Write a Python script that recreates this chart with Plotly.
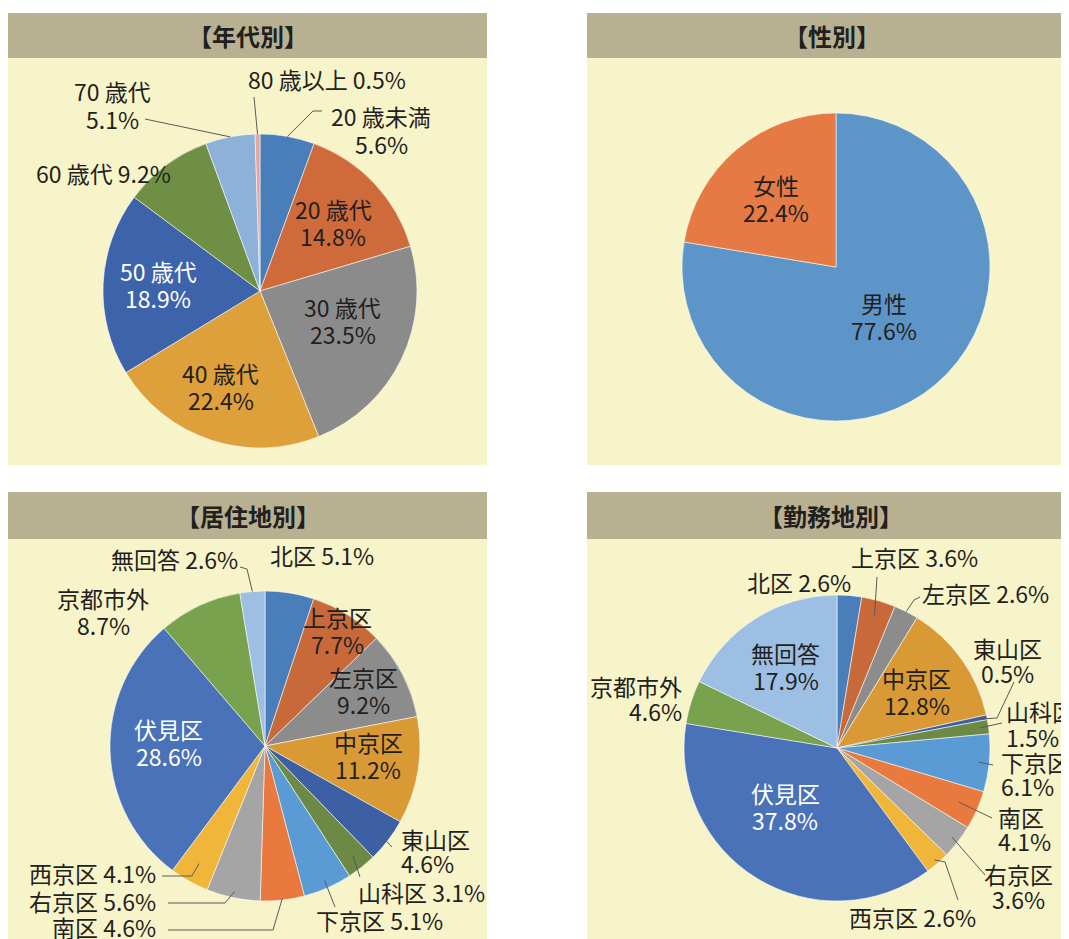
import math
import plotly.graph_objects as go

W, H = 1069, 939
OFF = 8  # page body margin in the browser

# ---------------- data ----------------
age_labels = ["20 歳未満", "20 歳代", "30 歳代", "40 歳代", "50 歳代", "60 歳代", "70 歳代", "80 歳以上"]
age_values = [5.6, 14.8, 23.5, 22.4, 18.9, 9.2, 5.1, 0.5]

sex_labels = ["男性", "女性"]
sex_values = [77.6, 22.4]

ward_labels = ["北区", "上京区", "左京区", "中京区", "東山区", "山科区", "下京区",
               "南区", "右京区", "西京区", "伏見区", "京都市外", "無回答"]
res_values = [5.1, 7.7, 9.2, 11.2, 4.6, 3.1, 5.1, 4.6, 5.6, 4.1, 28.6, 8.7, 2.6]
work_values = [2.6, 3.6, 2.6, 12.8, 0.5, 1.5, 6.1, 4.1, 3.6, 2.6, 37.8, 4.6, 17.9]

titles = ["【年代別】", "【性別】", "【居住地別】", "【勤務地別】"]

# ---------------- styles ----------------
age_colors = ["#4a7ebb", "#cf6b3a", "#8b8b8b", "#dea03a", "#3d64ab", "#6f8f45", "#8eb1d9", "#e8a39b"]
sex_colors = ["#5e95c8", "#e57a45"]
ward_colors = ["#4a7ebb", "#c8693a", "#8c8c8c", "#d99a35", "#3d5fa3", "#6c8a45", "#5b9bd5",
               "#e8793f", "#a5a5a5", "#f0b63a", "#4a72b8", "#78a24e", "#9dbfe3"]

HEADER = "#b7b192"
PANEL = "#f8f4c9"
INK = "#231f20"
FONT = "Noto Sans CJK JP"
FS = 23
GAP = 27

FW, FH = W - OFF, H - OFF
fig = go.Figure()


def px(x, y):
    return (x - OFF) / FW, 1 - (y - OFF) / FH


def mid_angle(values, i, dang=0.0):
    tot = sum(values)
    start = sum(values[:i]) / tot * 360.0
    return start + values[i] / tot * 180.0 + dang


def polar(center, R, ang, frac):
    a = math.radians(ang)
    return center[0] + frac * R * math.sin(a), center[1] - frac * R * math.cos(a)


shapes = []
annotations = []


def add_text(text, x, y, anchor="center", color=INK, size=FS):
    xx, yy = px(x, y)
    annotations.append(dict(text=text, x=xx, y=yy, xref="paper", yref="paper", showarrow=False,
                            xanchor=anchor, yanchor="middle", borderpad=0,
                            font=dict(family=FONT, size=size, color=color)))


def add_label(name, v, x, y, two, anchor="center", color=INK, gap=GAP):
    if two:
        add_text(name, x, y - gap / 2, anchor, color)
        add_text(f"{v:.1f}%", x, y + gap / 2, anchor, color)
    else:
        add_text(f"{name} {v:.1f}%", x, y, anchor, color)


# panels: (x0, x1, header_y0, header_y1, panel_y1, title, title_x)
panels = [
    (7, 487, 13, 58, 465, titles[0], 248),
    (587, W, 13, 58, 465, titles[1], 832),
    (7, 487, 492, 539, H, titles[2], 248),
    (587, W, 492, 539, H, titles[3], 831),
]
for x0, x1, hy0, hy1, py1, title, tx in panels:
    a0, b0 = px(x0, hy1)
    a1, b1 = px(x1, py1)
    shapes.append(dict(type="rect", xref="paper", yref="paper", x0=a0, x1=a1, y0=b1, y1=b0,
                       fillcolor=PANEL, line=dict(width=0), layer="below"))
    a0, b0 = px(x0, hy0)
    a1, b1 = px(x1, hy1)
    shapes.append(dict(type="rect", xref="paper", yref="paper", x0=a0, x1=a1, y0=b1, y1=b0,
                       fillcolor=HEADER, line=dict(width=0), layer="below"))
    add_text(f"<b>{title}</b>", tx, (hy0 + hy1) / 2, size=24)


def add_pie(labels, values, colors, center, R, specs):
    cx, cy = center
    d0x, d1y = px(cx - R, cy - R)
    d1x, d0y = px(cx + R, cy + R)
    fig.add_trace(go.Pie(
        labels=labels, values=values, sort=False, direction="clockwise", rotation=0,
        marker=dict(colors=colors, line=dict(color="rgba(255,255,255,0.55)", width=1)),
        textinfo="none", hoverinfo="label+percent", showlegend=False,
        domain=dict(x=[d0x, d1x], y=[d0y, d1y]),
    ))
    for i, sp in enumerate(specs):
        name, v = labels[i], values[i]
        if sp["mode"] == "in":
            ang = mid_angle(values, i, sp.get("dang", 0))
            x, y = polar(center, R, ang, sp["frac"])
            add_label(name, v, x, y, True, "center", sp.get("color", INK))
        else:
            x, y = sp["pos"]
            add_label(name, v, x, y, sp.get("two", False), sp.get("anchor", "center"),
                      gap=sp.get("gap", GAP))
            if "lead" in sp:
                ang = mid_angle(values, i)
                tip = polar(center, R, ang, sp["tip"])
                pts = list(sp["lead"]) + [tip]
                path = ""
                for k, (a, b) in enumerate(pts):
                    pa, pb = px(a, b)
                    path += ("M" if k == 0 else "L") + f"{pa:.5f},{pb:.5f}"
                shapes.append(dict(type="path", xref="paper", yref="paper", path=path,
                                   line=dict(color="#5a5a5a", width=1), layer="above"))


# ---- 年代別 ----
add_pie(age_labels, age_values, age_colors, (260, 291), 157, [
    dict(mode="out", two=True, pos=(381, 130), lead=[(322, 111), (313, 111)], tip=1.0),
    dict(mode="in", frac=0.64),
    dict(mode="in", frac=0.56, dang=-6),
    dict(mode="in", frac=0.66, dang=4),
    dict(mode="in", frac=0.65, dang=1, color="white"),
    dict(mode="out", pos=(103, 173)),
    dict(mode="out", two=True, pos=(112, 105), lead=[(145, 119)], tip=1.0),
    dict(mode="out", pos=(327, 79), lead=[(254, 97)], tip=1.0),
])

# ---- 性別 ----
add_pie(sex_labels, sex_values, sex_colors, (836, 267), 154, [
    dict(mode="in", frac=0.45, dang=-4),
    dict(mode="in", frac=0.59, dang=-1),
])

# ---- 居住地別 ----
add_pie(ward_labels, res_values, ward_colors, (265, 746), 155, [
    dict(mode="out", pos=(322, 555)),
    dict(mode="in", frac=0.88),
    dict(mode="in", frac=0.73, dang=-2),
    dict(mode="in", frac=0.67, dang=-4),
    dict(mode="out", two=True, anchor="left", pos=(400, 851), gap=24, lead=[(392, 847)], tip=0.93),
    dict(mode="out", pos=(421, 892), lead=[(360, 877)], tip=0.91),
    dict(mode="out", pos=(379, 920), lead=[(335, 907)], tip=0.95),
    dict(mode="out", anchor="right", pos=(157, 927), lead=[(168, 930), (273, 930)], tip=0.99),
    dict(mode="out", anchor="right", pos=(157, 901), lead=[(168, 903), (225, 903)], tip=0.96),
    dict(mode="out", anchor="right", pos=(157, 873), lead=[(162, 876), (192, 876)], tip=0.87),
    dict(mode="in", frac=0.62, dang=4, color="white"),
    dict(mode="out", two=True, pos=(103, 611)),
    dict(mode="out", pos=(174, 559), lead=[(240, 567), (247, 569)], tip=1.0),
])

# ---- 勤務地別 ----
add_pie(ward_labels, work_values, ward_colors, (837, 748), 153, [
    dict(mode="out", pos=(799, 582)),
    dict(mode="out", pos=(914, 557), lead=[(877, 577)], tip=0.9),
    dict(mode="out", pos=(985, 593), lead=[(920, 597), (914, 600)], tip=1.0),
    dict(mode="in", frac=0.64),
    dict(mode="out", two=True, pos=(1007, 660), gap=25, lead=[(1014, 682), (997, 718)], tip=0.94),
    dict(mode="out", two=True, anchor="left", pos=(1005, 724), gap=26, lead=[(1002, 723)], tip=0.94),
    dict(mode="out", two=True, anchor="left", pos=(1000, 774), gap=24, lead=[(993, 765)], tip=0.93),
    dict(mode="out", two=True, anchor="left", pos=(997, 829), gap=24, lead=[(992, 818)], tip=0.87),
    dict(mode="out", two=True, pos=(1018, 886), gap=25, lead=[(985, 875)], tip=0.95),
    dict(mode="out", pos=(912, 917), lead=[(958, 900), (945, 862)], tip=0.97),
    dict(mode="in", frac=0.51, dang=10, color="white"),
    dict(mode="out", two=True, anchor="right", pos=(683, 698), gap=25),
    dict(mode="in", frac=0.63),
])

fig.update_layout(
    width=FW, height=FH, margin=dict(l=0, r=0, t=0, b=0),
    paper_bgcolor="white", plot_bgcolor="white",
    shapes=shapes, annotations=annotations,
    font=dict(family=FONT, color=INK),
)

fig.write_html("out.html")
